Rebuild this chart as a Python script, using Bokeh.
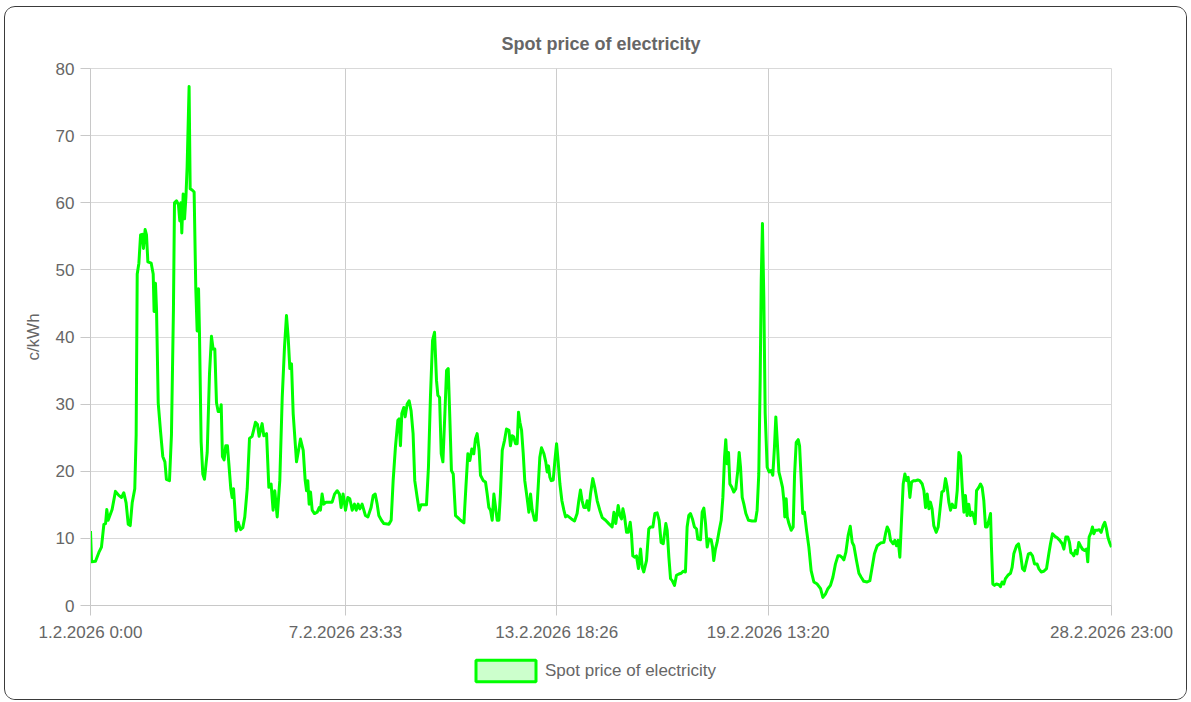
from datetime import datetime
from bokeh.plotting import figure
from bokeh.layouts import column
from bokeh.models import Range1d, FixedTicker, Legend, LegendItem, ColumnDataSource
from bokeh.embed import file_html
from bokeh.resources import INLINE

title_text = "Spot price of electricity"
y_label = "c/kWh"
series_name = "Spot price of electricity"
start_label = "1.2.2026 0:00"
x_tick_labels = ["1.2.2026 0:00", "7.2.2026 23:33", "13.2.2026 18:26",
                 "19.2.2026 13:20", "28.2.2026 23:00"]
y_ticks = [0, 10, 20, 30, 40, 50, 60, 70, 80]

# hours since 1.2.2026 0:00
hours = [
    0, 0.7, 3.3, 5.5, 7.2, 8.8, 9.9, 10.7, 11.6, 14.2, 16.4, 18.6, 20.4, 21.9, 23.4, 24.8, 26.1, 27.4, 29.1, 30.0,
    30.7, 31.8, 32.9, 34.0, 34.8, 35.9, 36.8, 37.7, 39.9, 41.2, 41.8, 42.7, 43.4, 44.5, 46.0, 47.5, 48.9, 49.9, 51.9, 53.2,
    54.5, 55.2, 56.5, 57.8, 58.7, 59.4, 60.0, 60.9, 61.8, 62.7, 63.5, 64.8, 65.5, 66.8, 68.1, 69.2, 70.1, 71.0, 71.6, 72.7,
    73.8, 74.9, 76.7, 78.2, 79.5, 80.6, 81.7, 82.8, 83.9, 85.2, 85.9, 86.7, 87.8, 88.9, 90.0, 90.9, 92.2, 93.1, 94.0, 94.9,
    95.7, 97.0, 98.6, 100.1, 101.4, 103.0, 104.5, 106.2, 107.3, 108.4, 109.7, 110.8,
    112.8, 113.9, 115.7, 117.2, 118.7, 120.0, 121.1, 122.7, 124.4, 126.0, 127.5, 128.8, 129.9, 131.0, 132.1, 133.2,
    135.4, 136.7, 138.0, 139.8, 141.1, 142.0, 142.8, 143.7, 144.6, 145.7, 147.2, 149.0, 150.3, 151.1, 152.2, 153.3,
    154.9, 156.6, 158.8, 160.4, 162.1, 163.6, 164.7, 166.0, 167.6, 169.1, 170.4, 172.0, 173.5, 174.6, 175.9, 177.0,
    178.5, 180.7, 182.3, 184.4, 185.8, 187.1, 188.4, 189.5, 191.2, 192.8, 196.1, 197.6, 198.9, 200.4, 202.0, 202.8,
    203.7, 204.6, 205.9, 206.8, 208.1, 209.4, 210.7, 212.0, 213.1, 214.7, 216.0, 217.3, 220.8, 222.1, 223.4,
    224.8, 226.1, 227.4, 228.3, 229.4, 230.5, 231.6, 232.9, 234.0, 235.1, 236.2, 237.2, 238.4, 239.9, 241.4, 243.2,
    245.4, 246.7, 248.0, 249.3, 250.6, 251.9, 253.0, 254.1, 255.4, 256.3, 258.1, 259.6, 260.7, 261.8, 262.9, 264.0,
    265.1, 266.2, 267.3, 268.4, 269.4, 270.6, 272.1, 273.4, 275.0, 276.0, 277.1, 278.2, 279.3, 280.4, 281.3, 282.2,
    283.3, 284.4, 285.4, 287.0, 288.1, 289.2, 290.3, 291.8, 292.9, 294.2, 295.3, 296.4, 298.0, 299.2, 300.1, 301.0,
    301.9, 302.8, 304.1, 305.2, 306.3, 307.1, 308.5, 309.8, 311.1, 312.2, 313.3, 314.4, 316.1, 318.1, 319.8, 320.9,
    322.0, 323.1, 324.2, 325.5, 326.4, 327.5, 328.6, 330.1, 331.4, 333.0, 334.7, 336.3,
    338.5, 340.6, 342.8, 344.0, 345.2, 346.8, 347.9, 349.0, 349.9, 351.0, 352.3, 353.4, 354.7, 355.5, 356.4, 357.7,
    358.8, 360.1, 361.5, 362.6, 363.6, 365.4, 366.9, 368.0, 369.6, 370.9, 372.4, 373.7, 375.0, 376.4, 378.1, 379.0,
    380.1, 381.2, 382.3, 383.8, 385.1, 386.7, 388.2, 389.5, 391.0, 392.1, 393.2, 394.3, 395.6, 396.9, 398.3, 399.1,
    400.9, 402.0, 403.1, 404.2, 405.3, 406.4, 407.9, 408.8, 409.6, 410.7, 411.8, 413.2, 414.5, 415.6, 416.7, 417.5,
    418.4, 419.3, 420.2, 421.5, 422.8, 424.1, 425.4, 426.3, 427.2, 428.3, 429.4, 430.7, 432.4, 434.8, 437.0, 438.1,
    439.2, 440.1, 440.8, 441.6, 442.5, 443.4, 444.7, 446.0, 447.3, 448.4,
    449.5, 450.4, 451.3, 452.4, 453.5, 454.8, 455.7, 456.3, 457.2, 457.9, 459.0, 460.5, 461.8, 462.7, 463.8, 465.1,
    466.0, 467.1, 468.1, 469.2, 470.6, 472.1, 473.6, 475.4, 477.6, 479.8, 481.3, 483.0, 484.6, 486.3, 487.9, 489.6,
    491.2, 492.5, 493.8, 495.1, 496.4, 497.9, 499.3, 500.6, 501.7, 503.4, 505.0, 506.5, 508.2, 510.4, 512.2, 513.7,
    515.2, 517.0, 519.2, 521.4, 522.5, 523.6, 524.7, 525.8, 527.5, 528.6, 529.7, 530.8, 531.9, 533.0, 534.1, 535.2,
    536.3, 537.4, 538.5, 539.6, 541.1, 542.4, 543.7, 545.0, 546.6, 547.7, 548.8, 549.9, 551.0, 552.0, 553.1, 554.2,
    555.8, 557.1,
    559.5, 560.8, 561.9, 563.0, 564.1, 565.2, 566.3, 567.4, 568.5, 569.6, 570.7, 571.8, 572.9, 574.0, 575.0, 576.1,
    577.2, 578.3, 579.4, 580.5, 581.4, 582.3, 583.8, 584.9, 586.0, 587.1, 588.2, 589.3, 590.4, 591.5, 592.1, 593.0,
    594.1, 595.4, 597.0, 598.0, 599.1, 600.2, 601.3, 602.9, 604.6, 605.7, 606.8, 608.6, 609.9, 611.2, 612.5, 613.8,
    615.1, 616.4, 617.8, 619.1, 620.4, 622.1, 623.2, 624.8, 626.5, 628.3, 629.8, 630.9, 632.2, 633.8, 635.3, 637.0,
    638.6, 639.7, 641.0, 642.3, 643.4, 644.3, 645.4, 646.2, 647.3, 648.4, 649.5, 650.6, 651.9, 653.3, 654.6, 655.4,
    656.3, 657.6, 658.5, 659.4, 660.3, 661.6, 662.9, 664.2, 665.5, 666.6, 667.7, 668.6, 669.7, 671.0,
]

# c/kWh
prices = [
    11.1, 6.5, 6.6, 7.9, 8.7, 12.1, 12.2, 14.3, 12.7, 14.3, 17.0, 16.4, 16.1, 16.8, 15.3, 12.1, 11.9, 15.3, 17.4, 25.4,
    49.4, 51.0, 55.2, 55.3, 53.2, 56.0, 55.2, 51.2, 51.0, 49.4, 43.8, 48.0, 44.0, 30.2, 26.0, 22.2, 21.4, 18.8, 18.6, 25.4,
    44.0, 60.0, 60.3, 59.7, 57.3, 60.0, 55.5, 61.3, 57.6, 60.8, 65.3, 77.3, 62.1, 61.9, 61.6, 47.2, 40.9, 47.2, 40.9, 24.4,
    19.6, 18.8, 22.8, 34.5, 40.1, 38.2, 38.2, 30.2, 28.9, 28.9, 29.9, 22.2, 21.7, 23.8, 23.8, 21.2, 17.4, 16.1, 17.4, 14.3,
    11.1, 12.4, 11.3, 11.6, 13.2, 17.4, 24.9, 25.2, 26.2, 27.3, 27.0, 25.2,
    27.1, 25.3, 25.6, 17.6, 18.1, 14.2, 17.1, 13.2, 18.6, 31.0, 38.5, 43.2, 40.0, 35.3, 36.0, 28.6,
    21.4, 23.1, 24.8, 23.1, 18.6, 17.1, 18.6, 15.1, 16.9, 14.2, 13.7, 13.9, 14.6, 14.2, 16.6, 15.1,
    15.4, 15.4, 15.4, 16.6, 17.1, 16.6, 14.6, 16.6, 14.2, 16.1, 15.9, 14.2, 15.1, 14.2, 15.1, 14.4,
    15.1, 13.4, 13.2, 14.6, 16.4, 16.6, 15.1, 13.4, 12.7, 12.2, 12.1, 12.7, 18.6, 23.6, 27.6, 27.8,
    23.8, 28.6, 29.5, 28.1, 30.0, 30.5, 29.0, 25.6, 18.6, 16.1, 14.2, 15.0, 15.0, 20.6, 31.0,
    39.5, 40.7, 33.5, 31.3, 31.0, 22.6, 21.4, 28.6, 35.0, 35.3, 27.6, 20.1, 19.6, 13.4, 13.1, 12.7,
    12.3, 17.6, 22.6, 21.6, 23.3, 22.6, 24.8, 25.6, 23.1, 19.4, 18.6, 18.4, 16.6, 14.6, 14.2, 12.7,
    16.6, 14.6, 12.7, 12.7, 16.6, 23.1, 24.6, 26.3, 26.1, 23.8, 25.3, 25.1, 24.1, 24.1, 28.8, 27.3,
    26.1, 22.6, 18.6, 15.9, 13.9, 16.6, 14.2, 12.7, 12.7, 17.6, 22.1, 23.5, 22.6, 21.4, 19.9, 20.8,
    19.1, 18.6, 18.7, 21.6, 24.1, 22.1, 18.1, 15.6, 14.2, 13.2, 13.4, 13.2, 12.9, 12.6, 13.7, 15.6,
    17.2, 15.6, 14.6, 14.6, 15.6, 14.2, 16.6, 18.9, 17.6, 15.6, 14.2, 13.1,
    12.7, 12.2, 11.7, 13.9, 12.2, 14.9, 13.4, 12.9, 14.4, 13.2, 10.9, 10.9, 12.4, 10.7, 7.4, 7.2,
    7.4, 5.5, 8.4, 5.7, 5.0, 6.7, 11.4, 11.7, 11.7, 13.7, 13.8, 12.7, 9.4, 9.2, 12.2, 11.2,
    7.2, 4.0, 3.7, 3.0, 4.5, 4.7, 4.8, 5.1, 5.0, 11.7, 13.4, 13.7, 12.9, 11.7, 11.4, 9.9,
    9.8, 13.9, 14.5, 12.2, 8.7, 9.9, 9.8, 8.7, 6.7, 8.4, 9.4, 11.2, 12.7, 16.1, 22.1, 24.7,
    21.1, 22.8, 18.1, 17.6, 16.9, 17.4, 20.1, 22.8, 20.6, 16.1, 15.1, 13.7, 12.7, 12.6, 12.6, 14.2,
    19.6, 33.5, 48.4, 56.9, 45.9, 28.6, 20.6, 19.9, 20.1, 19.4,
    23.6, 28.1, 24.6, 19.9, 18.9, 17.6, 15.6, 13.2, 15.9, 13.2, 12.2, 11.2, 11.7, 19.4, 24.3, 24.7,
    23.8, 18.6, 13.7, 13.9, 11.2, 8.7, 5.2, 3.5, 3.2, 2.5, 1.2, 1.7, 2.5, 3.0, 4.2, 6.2,
    7.4, 7.4, 7.2, 6.8, 7.9, 10.4, 11.8, 9.4, 8.9, 6.7, 4.8, 4.2, 3.6, 3.5, 3.7, 5.7,
    7.7, 8.9, 9.3, 9.4, 10.7, 11.7, 11.2, 9.7, 9.2, 9.7, 8.9, 9.7, 7.2, 12.7, 18.1, 19.6,
    18.6, 19.1, 16.1, 18.4, 18.6, 18.6, 18.7, 18.6, 18.1, 17.1, 14.6, 16.6, 14.4, 15.4, 14.4, 11.9,
    10.9, 11.7,
    16.9, 17.1, 18.9, 17.6, 15.4, 14.2, 15.1, 14.6, 14.6, 17.1, 22.8, 22.3, 17.6, 13.9, 16.4, 13.4,
    15.1, 13.4, 13.9, 13.2, 12.2, 17.1, 17.6, 18.1, 17.6, 15.6, 11.7, 11.7, 12.7, 13.7, 8.7, 3.2,
    3.0, 3.2, 3.1, 2.8, 3.5, 3.2, 4.0, 4.5, 4.8, 5.7, 7.7, 8.9, 9.2, 7.7, 5.5, 5.2,
    6.5, 7.7, 7.8, 7.4, 6.2, 6.2, 5.5, 5.0, 5.1, 5.5, 7.7, 9.2, 10.7, 10.3, 10.1, 9.7,
    9.2, 8.4, 10.2, 10.2, 9.4, 7.9, 7.7, 7.4, 8.2, 7.7, 9.4, 8.9, 8.4, 8.2, 8.4, 6.5,
    10.2, 10.9, 11.7, 10.7, 11.2, 11.2, 11.3, 10.9, 11.9, 12.4, 11.4, 10.2, 9.4, 8.7,
]

FMT = "%d.%m.%Y %H:%M"
start = datetime.strptime(start_label, FMT)


def minutes_from_start(label):
    return int(round((datetime.strptime(label, FMT) - start).total_seconds() / 60))


tick_minutes = [minutes_from_start(l) for l in x_tick_labels]
x_minutes = [h * 60 for h in hours]

FONT = "Liberation Sans"
TXT = "#666666"
GRID = "#d9d9d9"
GREEN = "#00ff00"

# ---- main chart ----
p = figure(width=1181, height=640,
           x_range=Range1d(0, tick_minutes[-1]), y_range=Range1d(y_ticks[0], y_ticks[-1]),
           output_backend="svg", toolbar_location=None, title=title_text,
           min_border_left=85, min_border_right=75, min_border_top=61, min_border_bottom=42,
           background_fill_color="white", border_fill_color="white")

p.title.align = "center"
p.title.text_font = FONT
p.title.text_font_size = "18px"
p.title.text_font_style = "bold"
p.title.text_color = TXT
p.title.standoff = 29

p.outline_line_color = GRID

p.xaxis.ticker = FixedTicker(ticks=tick_minutes)
p.xaxis.major_label_overrides = dict(zip(tick_minutes, x_tick_labels))
p.xgrid.ticker = FixedTicker(ticks=tick_minutes)
p.yaxis.ticker = FixedTicker(ticks=y_ticks)
p.ygrid.ticker = FixedTicker(ticks=y_ticks)

for ax in (p.xaxis, p.yaxis):
    ax.axis_line_color = "#c8c8c8"
    ax.major_tick_line_color = "#c8c8c8"
    ax.major_tick_out = 10
    ax.major_tick_in = 0
    ax.minor_tick_line_color = None
    ax.major_label_text_font = FONT
    ax.major_label_text_font_size = "17px"
    ax.major_label_text_color = TXT

p.xaxis.major_label_standoff = 7
p.yaxis.major_label_standoff = 6
p.yaxis.axis_label = y_label
p.yaxis.axis_label_text_font = FONT
p.yaxis.axis_label_text_font_size = "17px"
p.yaxis.axis_label_text_font_style = "normal"
p.yaxis.axis_label_text_color = TXT
p.yaxis.axis_label_standoff = 10

p.xgrid.grid_line_color = "#cccccc"
p.ygrid.grid_line_color = GRID

src = ColumnDataSource(dict(x=x_minutes, y=prices))
p.line("x", "y", source=src, line_color=GREEN, line_width=3, line_join="round")

# ---- legend strip ----
lg = figure(width=1181, height=52, x_range=Range1d(0, 1), y_range=Range1d(0, 1),
            output_backend="svg", toolbar_location=None,
            min_border=0, min_border_left=0, min_border_right=0,
            min_border_top=0, min_border_bottom=0,
            background_fill_color="white", border_fill_color="white")
lg.axis.visible = False
lg.grid.visible = False
lg.outline_line_color = None

nan = float("nan")
swatch_src = ColumnDataSource(dict(left=[nan], right=[nan], top=[nan], bottom=[nan]))
swatch = lg.quad(left="left", right="right", top="top", bottom="bottom", source=swatch_src,
                 fill_color=GREEN, fill_alpha=0.2, line_color=GREEN, line_width=3)

legend = Legend(items=[LegendItem(label=series_name, renderers=[swatch], index=0)],
                orientation="horizontal", location=(378, 15),
                glyph_width=75, glyph_height=27, label_standoff=2,
                label_text_font=FONT, label_text_font_size="17px", label_text_color=TXT,
                border_line_color=None, background_fill_alpha=0,
                padding=0, margin=0, spacing=0)
lg.add_layout(legend, "center")

card = column(p, lg, spacing=0,
              styles={"border": "1px solid #3a3a3a", "border-radius": "11px",
                      "margin": "6px 0 0 4px", "overflow": "hidden"})

open("out.html", "w").write(file_html(card, INLINE))
